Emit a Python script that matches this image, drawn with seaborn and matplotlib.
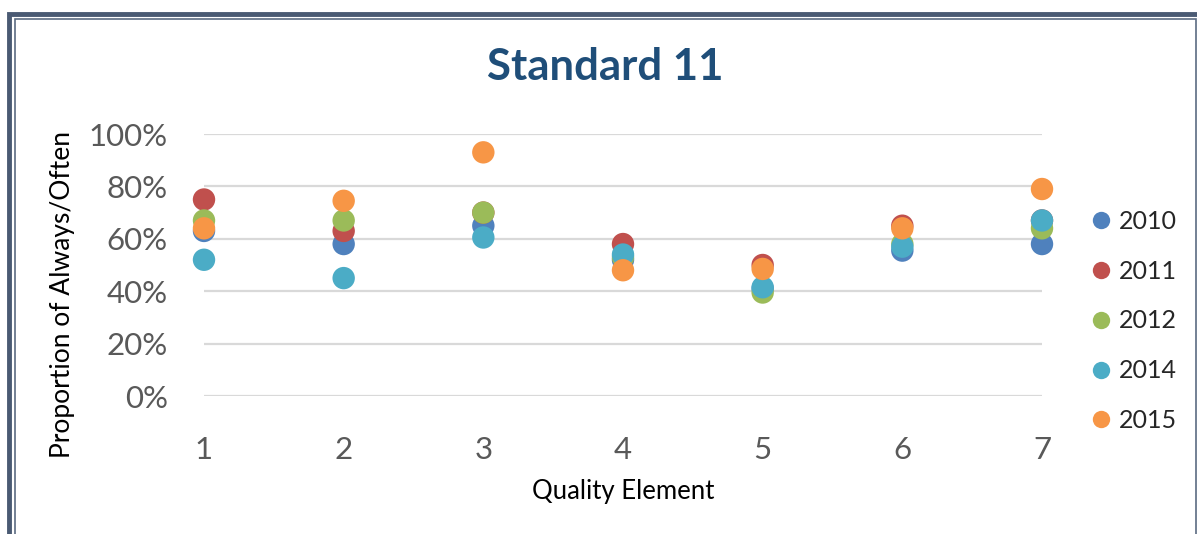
import matplotlib
matplotlib.use("Agg")
import matplotlib.pyplot as plt
from matplotlib.lines import Line2D
from matplotlib.patches import Rectangle
import seaborn as sns
import pandas as pd

# Quality elements on the x axis and the share answering Always/Often (%)
elements = [1, 2, 3, 4, 5, 6, 7]
years = ["2010", "2011", "2012", "2014", "2015"]
y2010 = [63, 58, 65, 52, 41, 55.5, 58]
y2011 = [75, 63, 70, 58, 50, 65, 67]
y2012 = [67, 67, 70, 53, 39.5, 58, 64]
y2014 = [52, 45, 60.5, 54, 41.5, 57, 67]
y2015 = [64, 74.5, 93, 48, 48.5, 64, 79]
yticks = [0, 20, 40, 60, 80, 100]

colors = ["#4F81BD", "#C0504D", "#9BBB59", "#4BACC6", "#F79646"]

series = [y2010, y2011, y2012, y2014, y2015]
df = pd.DataFrame({
    "element": [e for _ in years for e in elements],
    "value": [v / 100 for s in series for v in s],
    "year": [y for y in years for _ in elements],
})

sns.set_theme(style="white")
plt.rcParams["font.family"] = ["Lato", "DejaVu Sans"]

fig = plt.figure(figsize=(11.97, 5.34), dpi=100)
ax = fig.add_axes([204 / 1197, 1 - 396 / 534, (1042 - 204) / 1197, (396 - 134) / 534])

sns.scatterplot(data=df, x="element", y="value", hue="year", hue_order=years,
                palette=colors, s=260, linewidth=0, alpha=1.0, ax=ax,
                legend=False, clip_on=False, zorder=3)

ax.set_xlim(1, 7)
ax.set_ylim(0, 1)
ax.set_xticks(elements)
ax.set_xticklabels([str(e) for e in elements])
ax.set_yticks([t / 100 for t in yticks])
ax.set_yticklabels([f"{t}%" for t in yticks])
ax.tick_params(axis="y", length=0, pad=26, labelsize=22.5, labelcolor="#595959")
ax.tick_params(axis="x", length=0, pad=29, labelsize=22.5, labelcolor="#595959")
ax.yaxis.grid(True, color="#d9d9d9", linewidth=1.6)
ax.set_axisbelow(True)
for sp in ax.spines.values():
    sp.set_visible(False)

ax.set_xlabel("Quality Element", fontsize=18.5, color="black", va="center")
ax.xaxis.set_label_coords(0.5, (396 - 492) / 262)
ax.set_ylabel("Proportion of Always/Often", fontsize=19, color="black", va="center")
ax.yaxis.set_label_coords((63 - 204) / 838, (396 - 294) / 262)

fig.text(605 / 1197, 1 - 67 / 534, "Standard 11", ha="center", va="center",
         fontsize=31.5, fontweight="bold", color="#1F4E79")

handles = [Line2D([0], [0], marker="o", linestyle="none", markersize=12.5,
                  markerfacecolor=c, markeredgewidth=0) for c in colors]
fig.legend(handles, years, loc="upper left",
           bbox_to_anchor=(1078 / 1197, 1 - 200 / 534), frameon=False,
           fontsize=18, labelspacing=1.07, handletextpad=0.25,
           handlelength=1.0, borderaxespad=0)

# Chart frame: heavy outer line plus a thin inner line
fig.add_artist(Rectangle((9 / 1197, -0.1), 1.2, 1 - 14 / 534 + 0.1,
                         transform=fig.transFigure, fill=False,
                         edgecolor="#4a5a73", linewidth=3.5))
fig.add_artist(Rectangle((14.5 / 1197, -0.1), (1195.5 - 14.5) / 1197,
                         1 - 18.5 / 534 + 0.1, transform=fig.transFigure,
                         fill=False, edgecolor="#5b6b82", linewidth=1.2))

fig.savefig("out.png", dpi=100)
